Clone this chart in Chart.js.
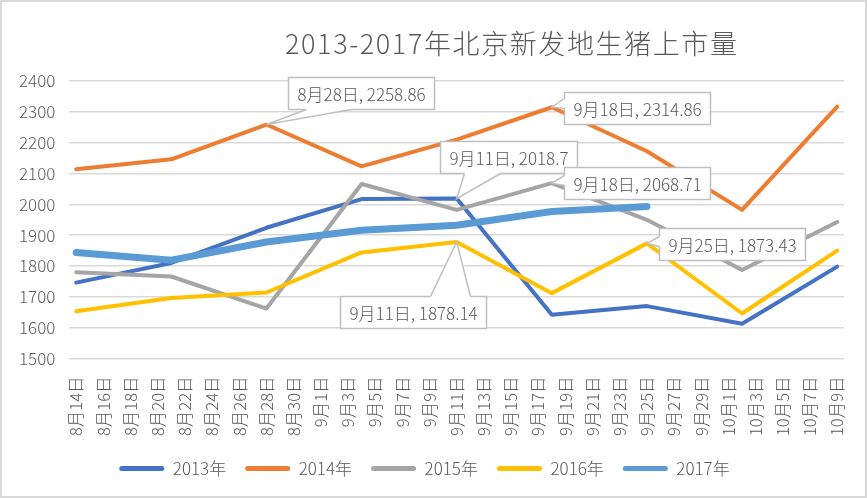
<!DOCTYPE html>
<html>
<head>
<meta charset="utf-8">
<script src="https://cdn.jsdelivr.net/npm/chart.js@4/dist/chart.umd.min.js"></script>
<style>
  html, body { margin: 0; padding: 0; background: #ffffff; }
  #wrap { position: relative; width: 867px; height: 498px; box-sizing: border-box; border: 2px solid #D9D9D9; background: #fff; }
  #title { position: absolute; left: 283px; top: 21px; font-family: "Noto Sans CJK SC", sans-serif; font-weight: 300; font-size: 27px; color: #595959; white-space: nowrap; letter-spacing: 1.6px; }
  canvas { display: block; }
</style>
</head>
<body>
<script>
// ---- data ----
const categories = [
  '8月14日','8月15日','8月16日','8月17日','8月18日','8月19日','8月20日','8月21日','8月22日','8月23日',
  '8月24日','8月25日','8月26日','8月27日','8月28日','8月29日','8月30日','8月31日','9月1日','9月2日',
  '9月3日','9月4日','9月5日','9月6日','9月7日','9月8日','9月9日','9月10日','9月11日','9月12日',
  '9月13日','9月14日','9月15日','9月16日','9月17日','9月18日','9月19日','9月20日','9月21日','9月22日',
  '9月23日','9月24日','9月25日','9月26日','9月27日','9月28日','9月29日','9月30日','10月1日','10月2日',
  '10月3日','10月4日','10月5日','10月6日','10月7日','10月8日','10月9日'
];
const pointDates = ['8月14日','8月21日','8月28日','9月4日','9月11日','9月18日','9月25日','10月2日','10月9日'];
const seriesNames = ['2013年','2014年','2015年','2016年','2017年'];
const v2013 = [1746, 1810, 1924, 2017, 2018.7, 1642, 1670, 1613, 1798];
const v2014 = [2114, 2146, 2258.86, 2123, 2210, 2314.86, 2172, 1982, 2317];
const v2015 = [1780, 1766, 1662, 2066, 1982, 2068.71, 1950, 1787, 1943];
const v2016 = [1653, 1696, 1714, 1844, 1878.14, 1712, 1873.43, 1646, 1850];
const v2017 = [1844, 1819, 1878, 1916, 1932, 1977, 1993];
const yTicks = [1500, 1600, 1700, 1800, 1900, 2000, 2100, 2200, 2300, 2400];
</script>
<div id="wrap">
  <canvas id="c" width="863" height="494"></canvas>
  <div id="title">2013-2017年北京新发地生猪上市量</div>
</div>
<script>
const FONT = '"Noto Sans CJK SC", sans-serif';
const TXT = '#595959';
const colors = ['#4472C4', '#ED7D31', '#A5A5A5', '#FFC000', '#5B9BD5'];
const widths = [4, 4, 4, 4, 7];
const allValues = [v2013, v2014, v2015, v2016, v2017];

const datasets = allValues.map((vals, s) => ({
  label: seriesNames[s],
  data: vals.map((v, i) => ({ x: pointDates[i], y: v })),
  borderColor: colors[s],
  backgroundColor: colors[s],
  borderWidth: widths[s],
  pointRadius: 0,
  pointHoverRadius: 0,
  tension: 0,
  fill: false,
  borderCapStyle: 'round',
  borderJoinStyle: 'round',
  order: 5 - s
}));

// callout label styles (offsets of the box relative to its data point)
const callouts = [
  { s: 1, i: 2, dx: 22, dy: -48, side: 'bottom', b0: 18, b1: 63 },
  { s: 1, i: 5, dx: 12, dy: -15, side: 'left', b0: 6, b1: 16 },
  { s: 0, i: 4, dx: -17, dy: -58, side: 'bottom', b0: 24, b1: 60 },
  { s: 2, i: 5, dx: 12, dy: -16, side: 'left', b0: 8, b1: 18 },
  { s: 3, i: 4, dx: -117, dy: 54, side: 'top', b0: 90, b1: 130 },
  { s: 3, i: 6, dx: 12, dy: -15, side: 'left', b0: 8, b1: 18 }
];

const calloutPlugin = {
  id: 'callouts',
  afterDatasetsDraw(chart) {
    const ctx = chart.ctx;
    ctx.save();
    ctx.font = '300 17px ' + FONT;
    callouts.forEach(c => {
      const meta = chart.getDatasetMeta(c.s);
      const el = meta.data[c.i];
      const px = el.x, py = el.y;
      const text = pointDates[c.i] + ', ' + allValues[c.s][c.i];
      const tw = ctx.measureText(text).width;
      const w = Math.round(tw + 18), h = 32;
      const bx = Math.round(px + c.dx) + 0.5, by = Math.round(py + c.dy) + 0.5;
      ctx.fillStyle = '#ffffff';
      ctx.strokeStyle = '#BFBFBF';
      ctx.lineWidth = 1.5;
      ctx.fillRect(bx, by, w, h);
      ctx.strokeRect(bx, by, w, h);
      let a, b, ai, bi;
      if (c.side === 'bottom') { a = [bx + c.b0, by + h]; b = [bx + c.b1, by + h]; ai = [a[0], a[1] - 2]; bi = [b[0], b[1] - 2]; }
      else if (c.side === 'top') { a = [bx + c.b0, by]; b = [bx + c.b1, by]; ai = [a[0], a[1] + 2]; bi = [b[0], b[1] + 2]; }
      else { a = [bx, by + c.b0]; b = [bx, by + c.b1]; ai = [a[0] + 2, a[1]]; bi = [b[0] + 2, b[1]]; }
      ctx.beginPath();
      ctx.moveTo(px, py); ctx.lineTo(a[0], a[1]); ctx.lineTo(ai[0], ai[1]); ctx.lineTo(bi[0], bi[1]); ctx.lineTo(b[0], b[1]); ctx.closePath();
      ctx.fillStyle = '#ffffff';
      ctx.fill();
      ctx.beginPath();
      ctx.moveTo(a[0], a[1]); ctx.lineTo(px, py); ctx.lineTo(b[0], b[1]);
      ctx.stroke();
      ctx.fillStyle = TXT;
      ctx.textBaseline = 'middle';
      ctx.textAlign = 'left';
      ctx.fillText(text, bx + 9, by + h / 2 + 1);
    });
    ctx.restore();
  }
};

new Chart(document.getElementById('c'), {
  type: 'line',
  data: { labels: categories, datasets },
  plugins: [calloutPlugin],
  options: {
    responsive: false,
    animation: false,
    events: [],
    layout: { padding: { top: 79, left: 3, right: 21, bottom: 9 } },
    scales: {
      x: {
        type: 'category',
        offset: true,
        afterFit: (scale) => { scale.height = scale.height - 13; scale.paddingRight = 0; },
        grid: { display: false, drawTicks: false },
        border: { display: false },
        ticks: {
          autoSkip: false,
          maxRotation: 90,
          minRotation: 90,
          padding: 18,
          color: TXT,
          font: { family: FONT, size: 16.5, weight: 300 },
          callback: function (val, idx) { return idx % 2 === 0 ? this.getLabelForValue(val) : ''; }
        }
      },
      y: {
        min: 1500,
        max: 2400,
        afterBuildTicks: (axis) => { axis.ticks = yTicks.map(v => ({ value: v })); },
        grid: { color: '#D9D9D9', lineWidth: 1.5, drawTicks: false },
        border: { display: false },
        ticks: { padding: 14, color: TXT, font: { family: FONT, size: 17, weight: 300 }, callback: (v) => String(v) }
      }
    },
    plugins: {
      title: { display: false },
      tooltip: { enabled: false },
      legend: {
        position: 'bottom',
        labels: {
          color: TXT,
          font: { family: FONT, size: 17, weight: 300 },
          boxWidth: 45,
          boxHeight: 5,
          padding: 19,
          useBorderRadius: true,
          borderRadius: 2.5,
          sort: (a, b) => a.datasetIndex - b.datasetIndex,
          generateLabels: (chart) => chart.data.datasets.map((d, i) => ({
            text: d.label,
            fillStyle: d.borderColor,
            strokeStyle: d.borderColor,
            lineWidth: 0,
            fontColor: TXT,
            hidden: false,
            datasetIndex: i,
            borderRadius: 2.5
          }))
        }
      }
    }
  }
});
</script>
</body>
</html>
